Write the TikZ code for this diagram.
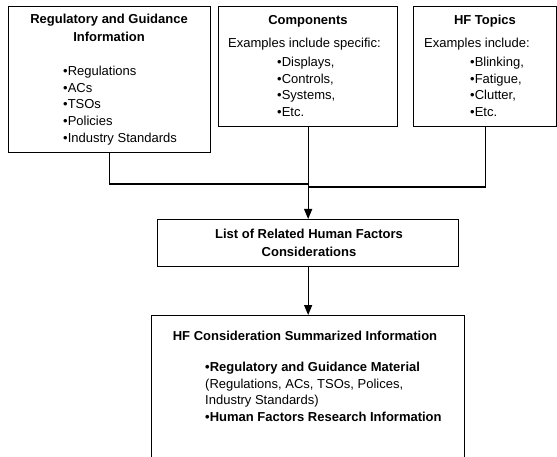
\documentclass[tikz,border=0pt]{standalone}
\usepackage{fontspec}
\setmainfont{Liberation Sans}
\usetikzlibrary{arrows.meta}
\newcommand{\hfsize}{\fontsize{13}{16.6}\selectfont}

\tikzset{
  box/.style={draw, line width=1.3pt, anchor=north west, inner sep=0pt},
  ttl/.style={font=\hfsize\bfseries, align=center, anchor=north, inner sep=0pt},
  txt/.style={font=\hfsize, align=left, anchor=north west, inner sep=0pt},
  link/.style={line width=1.3pt},
  arr/.style={link, -{Triangle[length=10pt,width=8pt]}}
}

\begin{document}
\begin{tikzpicture}[x=1pt,y=-1pt]
    \path[use as bounding box, clip] (0,0) rectangle (557,457);
	\node[box, minimum width=202pt, minimum height=146pt] (reg) at (8,6) {};
	\node[box, minimum width=179pt, minimum height=120pt] (comp) at (218,6) {};
	\node[box, minimum width=143pt, minimum height=120pt] (topics) at (413,6) {};
	\node[box, minimum width=301pt, minimum height=47pt] (list) at (157,219) {};
	\node[box, minimum width=313pt, minimum height=160pt] (summary) at (151,315) {};
	\node[ttl] (regtitle) at (109,14) {Regulatory and Guidance\\[1.4pt] Information};
	\node[txt] (reglist) at (63,66) {•Regulations\\ •ACs\\ •TSOs\\ •Policies\\ •Industry Standards};
	\node[ttl] (comptitle) at (308,15) {Components};
	\node[txt] (compex) at (228,38) {Examples include specific:};
	\node[txt] (complist) at (277,57) {•Displays,\\ •Controls,\\ •Systems,\\ •Etc.};
	\node[ttl] (topictitle) at (485,15) {HF Topics};
	\node[txt] (topicex) at (424,38) {Examples include:};
	\node[txt] (topiclist) at (470,57) {•Blinking,\\ •Fatigue,\\ •Clutter,\\ •Etc.};
	\node[ttl] (listtitle) at (309,229) {List of Related Human Factors\\[1.4pt] Considerations};
	\node[ttl] (sumtitle) at (305,331) {HF Consideration Summarized Information};
	\node[txt] (sumlist) at (205,362) {\textbf{•Regulatory and Guidance Material}\\ (Regulations, ACs, TSOs, Polices,\\ Industry Standards)\\ \textbf{•Human Factors Research Information}};
	\coordinate (joinl) at (comp.south |- 0,184);
	\coordinate (joinr) at (comp.south |- 0,187);
	\draw[link] (reg.south) |- (joinl);
	\draw[link] (topics.south) |- (joinr);
	\draw[arr] (comp.south) -- (list.north);
	\draw[arr] (list.south) -- (summary.north);
\end{tikzpicture}
\end{document}
